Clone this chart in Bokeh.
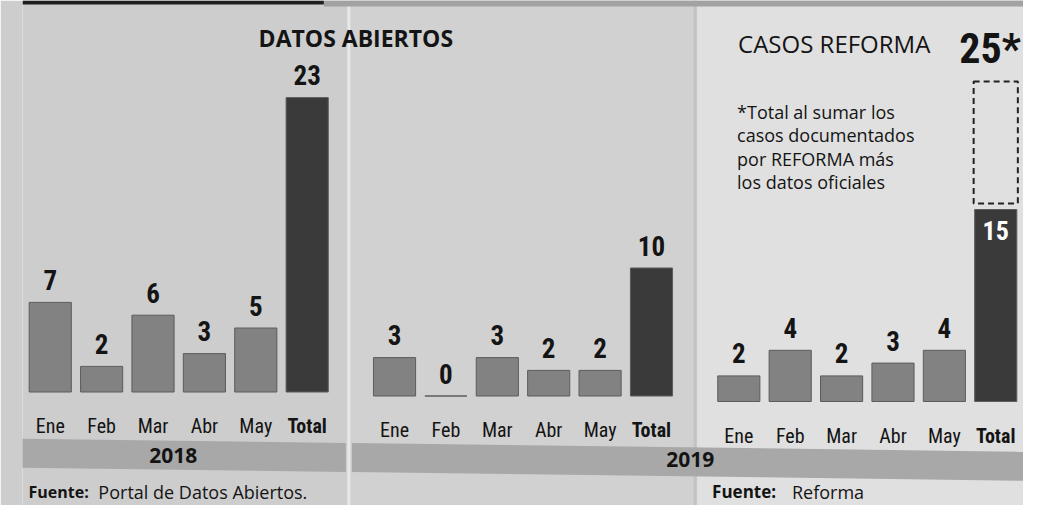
from bokeh.plotting import figure
from bokeh.models import FactorRange, Range1d, BoxAnnotation, Label, Span, ColumnDataSource
from bokeh.core.properties import value
from bokeh.embed import file_html
from bokeh.resources import INLINE

# ---------------- data ----------------
months = ["Ene", "Feb", "Mar", "Abr", "May", "Total"]
groups = ["Datos abiertos 2018", "Datos abiertos 2019", "Casos Reforma 2019"]
datos_2018 = [7, 2, 6, 3, 5, 23]
datos_2019 = [3, 0, 3, 2, 2, 10]
reforma_2019 = [2, 4, 2, 3, 4, 15]
total_sumado = 25
year_labels = ["2018", "2019"]

# ---------------- layout / style ----------------
W, H = 1023, 505
MIN_LEFT = 22
GROUP_PAD = 0.7
RANGE_PAD = 0.04
n_slots = len(groups) * len(months) + (len(groups) - 1) * GROUP_PAD + RANGE_PAD
UX = (W - MIN_LEFT) / n_slots

PX_UNIT = 12.8
BASE = [391.5, 395.5, 401.0]   # canvas-y of each panel's baseline (scan is slightly tilted)


def sx(px):
    """canvas x (px) -> synthetic categorical coordinate"""
    return -RANGE_PAD / 2 + (px - MIN_LEFT) / UX


def sy(py):
    """canvas y (px, from top) -> data y in the default (first panel) range"""
    return (BASE[0] - py) / PX_UNIT


def yr(base):
    return Range1d(-(H - base) / PX_UNIT, base / PX_UNIT)


BG1 = "#cdcdcd"
BG2 = "#d1d1d1"
BG3 = "#e0e0e0"
SEP = "#e8e8e8"
FOLD = "#c2c2c2"
BAND = "#a8a8a8"
BAR = "#828282"
TOTAL = "#3a3a3a"
EDGE = "#5c5c5c"
TXT = "#141414"
NARROW = "Liberation Sans Narrow, Roboto Condensed, DejaVu Sans Condensed, Arial Narrow, sans-serif"
SANS = "Open Sans"
SANS_GAP = 0.355     # Open Sans: ascent minus cap height (em)
NARROW_GAP = 0.19    # Liberation Sans Narrow: ascent minus cap height (em)

factors = [(g, m) for g in groups for m in months]
p = figure(width=W, height=H,
           x_range=FactorRange(*factors, group_padding=GROUP_PAD, factor_padding=0,
                               range_padding=RANGE_PAD, range_padding_units="absolute"),
           y_range=yr(BASE[0]),
           x_axis_location=None, y_axis_location=None,
           toolbar_location=None, output_backend="svg",
           min_border=0, min_border_left=MIN_LEFT)
p.extra_y_ranges = {"p1": yr(BASE[1]), "p2": yr(BASE[2])}
p.grid.visible = False
p.outline_line_color = None
p.background_fill_color = BG1
p.border_fill_color = BG1

# panel backgrounds and folds
p.add_layout(BoxAnnotation(left=sx(350), right=sx(697), fill_color=BG2, fill_alpha=1,
                           line_color=None, level="underlay"))
p.add_layout(BoxAnnotation(left=sx(697), fill_color=BG3, fill_alpha=1,
                           line_color=None, level="underlay"))
p.add_layout(Span(location=sx(348), dimension="height", line_color=SEP, line_width=3,
                  level="underlay"))
p.add_layout(Span(location=sx(695), dimension="height", line_color=FOLD, line_width=3,
                  level="underlay"))
# dark strips at the very top of the clipping
p.add_layout(BoxAnnotation(right=sx(323), top=sy(0), bottom=sy(4), fill_color="#1e1e1e",
                           fill_alpha=1, line_color=None, level="underlay"))
p.add_layout(BoxAnnotation(left=sx(323), top=sy(0), bottom=sy(6), fill_color="#a2a2a2",
                           fill_alpha=1, line_color=None, level="underlay"))


# year bands (slightly tilted like the scan)
def band(x0, x1):
    t0 = 438 + 0.013 * (x0 - 5)
    t1 = 438 + 0.013 * (x1 - 5)
    xs = [x0, x1, x1, x0]
    ys = [t0, t1, t1 + 29, t0 + 29]
    p.patch([sx(v) for v in xs], [sy(v) for v in ys], fill_color=BAND, line_color=None)


band(0, 345)
band(351, 1030)

# bars + month labels
series = [datos_2018, datos_2019, reforma_2019]
range_names = ["default", "p1", "p2"]
for g, vals, rn in zip(groups, series, range_names):
    src = ColumnDataSource(dict(
        x=[(g, m) for m in months],
        top=vals,
        color=[TOTAL if m == "Total" else BAR for m in months],
        month=months,
        style=["bold" if m == "Total" else "normal" for m in months],
        zero=[0] * len(months),
    ))
    p.vbar(x="x", top="top", bottom=0, width=0.82, source=src, fill_color="color",
           line_color=EDGE, line_width=1, y_range_name=rn)
    p.text(x="x", y="zero", text="month", source=src, y_range_name=rn,
           text_align="center", text_baseline="top", y_offset=26 - NARROW_GAP * 20,
           text_font=value(NARROW), text_font_size="20px", text_font_style="style",
           text_color=TXT)

# value labels above bars
for g, vals, rn, n in [(groups[0], datos_2018, "default", 6),
                       (groups[1], datos_2019, "p1", 6),
                       (groups[2], reforma_2019, "p2", 5)]:
    p.text(x=[(g, m) for m in months[:n]], y=vals[:n], text=[str(v) for v in vals[:n]],
           y_range_name=rn, text_align="center", text_baseline="top",
           y_offset=-32.5,
           text_font=value(NARROW), text_font_size="27px", text_font_style="bold",
           text_color=TXT)

# Reforma total: value inside the bar, dashed extension up to the combined total
g3 = groups[2]
p.text(x=[(g3, "Total")], y=[reforma_2019[-1]], text=[str(reforma_2019[-1])],
       y_range_name="p2", text_align="center", text_baseline="top", y_offset=11,
       text_font=value(NARROW), text_font_size="26px", text_font_style="bold",
       text_color="white")
p.vbar(x=[(g3, "Total")], bottom=[reforma_2019[-1] + 6 / PX_UNIT], top=[total_sumado],
       width=0.86, fill_color=None, line_color="#222222", line_width=2,
       line_dash="6 4", y_range_name="p2")
p.text(x=[(g3, "Total")], y=[total_sumado], text=[f"{total_sumado}*"],
       y_range_name="p2", text_align="right", text_baseline="top",
       y_offset=-50 - NARROW_GAP * 42, x_offset=25,
       text_font=value(NARROW), text_font_size="42px", text_font_style="bold",
       text_color=TXT)


# titles and notes: y = cap-top position
def lab(x, y, text, size, style="normal", align="left", font=SANS, color=TXT):
    p.add_layout(Label(x=sx(x), y=sy(y - SANS_GAP * size), text=text, text_font=font,
                       text_font_size=f"{size}px", text_font_style=style,
                       text_align=align, text_baseline="top", text_color=color))


lab(355, 30, "DATOS ABIERTOS", 23, "bold", "center")
lab(738, 35, "CASOS REFORMA", 24)
note = ["*Total al sumar los", "casos documentados", "por REFORMA más", "los datos oficiales"]
for i, line in enumerate(note):
    lab(737, 106 + i * 23.3, line, 18)

lab(172, 455, year_labels[0], 21, "bold", "center")
lab(690, 459, year_labels[1], 21, "bold", "center")

lab(27, 486, "Fuente:", 16, "bold")
lab(97, 486, "Portal de Datos Abiertos.", 18)
lab(712, 486, "Fuente:", 17, "bold")
lab(792, 486, "Reforma", 18)

open("out.html", "w").write(file_html(p, INLINE))
